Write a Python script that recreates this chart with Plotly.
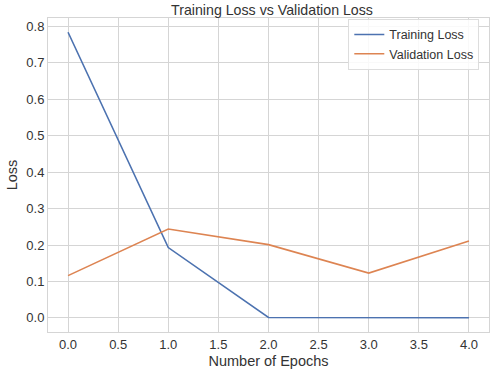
import plotly.graph_objects as go

epochs = [0, 1, 2, 3, 4]
training_loss = [0.784, 0.193, 0.0012, 0.0007, 0.0004]
validation_loss = [0.116, 0.244, 0.201, 0.123, 0.211]
x_ticks = [0.0, 0.5, 1.0, 1.5, 2.0, 2.5, 3.0, 3.5, 4.0]
y_ticks = [0.0, 0.1, 0.2, 0.3, 0.4, 0.5, 0.6, 0.7, 0.8]

FONT = "Liberation Sans, Arial, sans-serif"
TXT = "#333333"
GRID = "#d5d5d5"

fig = go.Figure()
fig.add_trace(go.Scatter(x=epochs, y=training_loss, mode="lines", name="Training Loss",
                         line=dict(color="#4c72b0", width=1.6)))
fig.add_trace(go.Scatter(x=epochs, y=validation_loss, mode="lines", name="Validation Loss",
                         line=dict(color="#dd8452", width=1.6)))

allv = training_loss + validation_loss
ymin, ymax = min(allv), max(allv)
ypad = (ymax - ymin) * 0.05
xpad = (max(epochs) - min(epochs)) * 0.05

fig.update_layout(
    width=497, height=376,
    margin=dict(l=48, r=8, t=18, b=44),
    paper_bgcolor="white", plot_bgcolor="white",
    font=dict(family=FONT, size=13, color=TXT),
    title=dict(text="Training Loss vs Validation Loss", xref="container", x=272 / 497,
               xanchor="center", yref="container", y=1 - 10 / 376, yanchor="middle",
               font=dict(size=14.2, color=TXT)),
    showlegend=True,
    legend=dict(x=0.978, y=0.997, xanchor="right", yanchor="top",
                bgcolor="rgba(255,255,255,0.85)", bordercolor="#dddddd", borderwidth=1,
                font=dict(size=12.5, color=TXT), tracegroupgap=0, itemwidth=30),
)
fig.update_xaxes(
    range=[min(epochs) - xpad, max(epochs) + xpad], tickvals=x_ticks,
    ticktext=[f"{v:.1f}" for v in x_ticks], automargin=False,
    showgrid=True, gridcolor=GRID, gridwidth=1, zeroline=False,
    showline=True, linecolor=GRID, linewidth=1, mirror=True, ticks="",
    title=dict(text="Number of Epochs", font=dict(size=14.5, color=TXT), standoff=5),
)
fig.update_yaxes(
    range=[ymin - ypad, ymax + ypad], tickvals=y_ticks,
    ticktext=[f"{v:.1f}" for v in y_ticks], automargin=False,
    showgrid=True, gridcolor=GRID, gridwidth=1, zeroline=False,
    showline=True, linecolor=GRID, linewidth=1, mirror=True, ticks="",
    title=dict(text="Loss", font=dict(size=14.5, color=TXT), standoff=5),
)
fig.write_html("out.html", config={"displayModeBar": False},
               post_script="document.body.style.margin='0';document.body.style.overflow='hidden';")
